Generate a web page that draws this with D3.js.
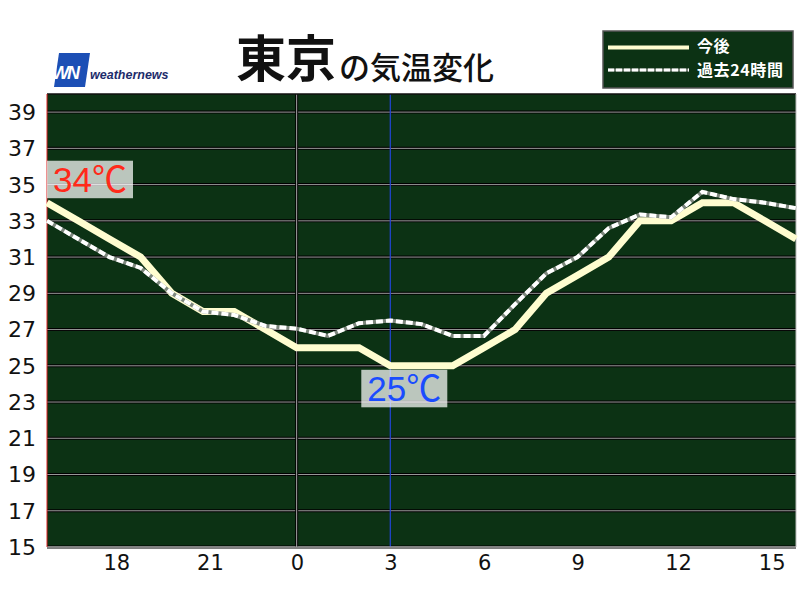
<!DOCTYPE html>
<html><head><meta charset="utf-8">
<script src="https://cdn.jsdelivr.net/npm/d3@7"></script>
<style>body{margin:0;background:#fff}svg{display:block}</style>
</head><body>
<svg id="c" width="800" height="600"></svg>
<script>
// ---- data ----
const hours = [16,17,18,19,20,21,22,23,0,1,2,3,4,5,6,7,8,9,10,11,12,13,14,15,16];
const forecast = [34,33,32,31,29,28,28,27,26,26,26,25,25,25,26,27,29,30,31,33,33,34,34,33,32];
const past24 = [33,32,31,30.4,29,28,27.8,27.2,27.05,26.65,27.35,27.5,27.3,26.65,26.65,28.4,30.1,31.0,32.6,33.35,33.2,34.6,34.2,34.0,33.7];
const xTickHours = [18,21,0,3,6,9,12,15];
const yTicks = [15,17,19,21,23,25,27,29,31,33,35,37,39];
const seriesNames = ["今後","過去24時間"];
const titleMain = "東京";
const titleSub = "の気温変化";
const nowIndex = 11;      // 3:00
const midnightIndex = 8;  // 0:00
const highLabel = {text:"34℃", index:0, value:34};
const lowLabel = {text:"25℃", index:11, value:25};

// ---- layout ----
const svg = d3.select("#c");
const L = 47, R = 796, T = 94, B = 547;
const x = d3.scaleLinear().domain([0, hours.length-1]).range([L, R]);
const y = d3.scaleLinear().domain([15, 40]).range([B, T]);
const bg = "#0c3214", cream = "#fffdd0";

// title
const tt = svg.append("text").attr("x",236).attr("y",77)
  .attr("font-family","'Noto Sans CJK JP'").attr("fill","#111");
tt.append("tspan").attr("font-size",50).attr("font-weight","bold").text(titleMain);
tt.append("tspan").attr("font-size",31).attr("font-weight",500).attr("dx",3).attr("dy",2).text(titleSub);

// logo
svg.append("polygon").attr("points","59,53 90,53 85,87 54,87").attr("fill","#1c4fb5");
svg.append("text").attr("x",52).attr("y",79).attr("font-family","'Liberation Sans'")
  .attr("font-style","italic").attr("font-weight","bold").attr("font-size",18)
  .attr("letter-spacing",-2).attr("fill","#fff").text("WN");
svg.append("text").attr("x",90).attr("y",79).attr("font-family","'Liberation Sans'")
  .attr("font-style","italic").attr("font-weight","bold").attr("font-size",12.5)
  .attr("fill","#1d2c6b").text("weathernews");

// plot background
svg.append("rect").attr("x",L).attr("y",T).attr("width",R-L).attr("height",B-T).attr("fill",bg);

// horizontal grid
const g = svg.append("g");
yTicks.forEach(v=>{
  g.append("line").attr("x1",L).attr("x2",R).attr("y1",y(v)).attr("y2",y(v))
    .attr("stroke","#000").attr("stroke-width",3);
  g.append("line").attr("x1",L).attr("x2",R).attr("y1",y(v)).attr("y2",y(v))
    .attr("stroke","#9a9a9a").attr("stroke-width",1);
});
// midnight line
g.append("line").attr("x1",x(midnightIndex)).attr("x2",x(midnightIndex)).attr("y1",T).attr("y2",B)
  .attr("stroke","#000").attr("stroke-width",3);
g.append("line").attr("x1",x(midnightIndex)).attr("x2",x(midnightIndex)).attr("y1",T).attr("y2",B)
  .attr("stroke","#aaa").attr("stroke-width",1);
// now line
g.append("line").attr("x1",x(nowIndex)).attr("x2",x(nowIndex)).attr("y1",T).attr("y2",B)
  .attr("stroke","#2246d8").attr("stroke-width",1.2);

// borders
svg.append("line").attr("x1",L).attr("x2",R).attr("y1",T).attr("y2",T).attr("stroke","#111").attr("stroke-width",1.5);
svg.append("line").attr("x1",L).attr("x2",R).attr("y1",B).attr("y2",B).attr("stroke","#bbb").attr("stroke-width",1);
svg.append("line").attr("x1",L).attr("x2",L).attr("y1",T).attr("y2",B).attr("stroke","#d22").attr("stroke-width",1);
svg.append("line").attr("x1",R).attr("x2",R).attr("y1",T).attr("y2",B).attr("stroke","#bbb").attr("stroke-width",1);

// lines
const line = d3.line().x((d,i)=>x(i)).y(d=>y(d));
svg.append("path").datum(forecast).attr("d",line).attr("fill","none")
  .attr("stroke",cream).attr("stroke-width",7).attr("stroke-linejoin","miter");
svg.append("path").datum(past24).attr("d",line).attr("fill","none")
  .attr("stroke","#7d877d").attr("stroke-width",4);
svg.append("path").datum(past24).attr("d",line).attr("fill","none")
  .attr("stroke","#fff").attr("stroke-width",4).attr("stroke-dasharray","7,3");

// value labels
function valueLabel(lb, color, below){
  const bw = 86, bh = 37.5;
  const bx = Math.max(L, x(lb.index)-29);
  const by = below ? y(lb.value)+4 : y(lb.value)-42;
  svg.append("rect").attr("x",bx).attr("y",by).attr("width",bw).attr("height",bh)
    .attr("fill","#fff").attr("fill-opacity",0.72);
  svg.append("text").attr("x",bx+bw/2).attr("y",by+bh/2).attr("dy","0.36em")
    .attr("text-anchor","middle").attr("font-family","'Liberation Sans','Noto Sans CJK JP'")
    .attr("font-size",35).attr("fill",color).text(lb.text);
}
valueLabel(highLabel, "#ff2a1a", false);
valueLabel(lowLabel, "#1a4cff", true);

// y axis labels
svg.append("g").selectAll("text").data(yTicks).join("text")
  .attr("x",8).attr("y",d=>y(d)).attr("dy","0.36em")
  .attr("font-family","'DejaVu Sans'").attr("font-size",22).attr("fill","#111")
  .text(d=>d);

// x axis labels
svg.append("g").selectAll("text").data(xTickHours).join("text")
  .attr("x",d=>x(hours.indexOf(d))-6).attr("y",570)
  .attr("font-family","'DejaVu Sans'").attr("font-size",21).attr("fill","#111")
  .text(d=>d);

// legend
const lg = svg.append("g");
lg.append("rect").attr("x",603).attr("y",31).attr("width",190).attr("height",57)
  .attr("fill",bg).attr("stroke","#555").attr("stroke-width",1.5);
lg.append("line").attr("x1",608).attr("x2",689).attr("y1",47.5).attr("y2",47.5)
  .attr("stroke",cream).attr("stroke-width",4);
lg.append("line").attr("x1",608).attr("x2",689).attr("y1",70).attr("y2",70)
  .attr("stroke","#7d877d").attr("stroke-width",3);
lg.append("line").attr("x1",608).attr("x2",689).attr("y1",70).attr("y2",70)
  .attr("stroke","#fff").attr("stroke-width",3).attr("stroke-dasharray","6,2");
const legY = [46.5, 70.5];
seriesNames.forEach((n,i)=>{
  lg.append("text").attr("x",697).attr("y",legY[i]).attr("dy","0.36em")
    .attr("font-family","'Noto Sans CJK JP'").attr("font-weight","bold").attr("font-size",16)
    .attr("letter-spacing",0.6).attr("fill","#fff").text(n);
});
</script>
</body></html>
